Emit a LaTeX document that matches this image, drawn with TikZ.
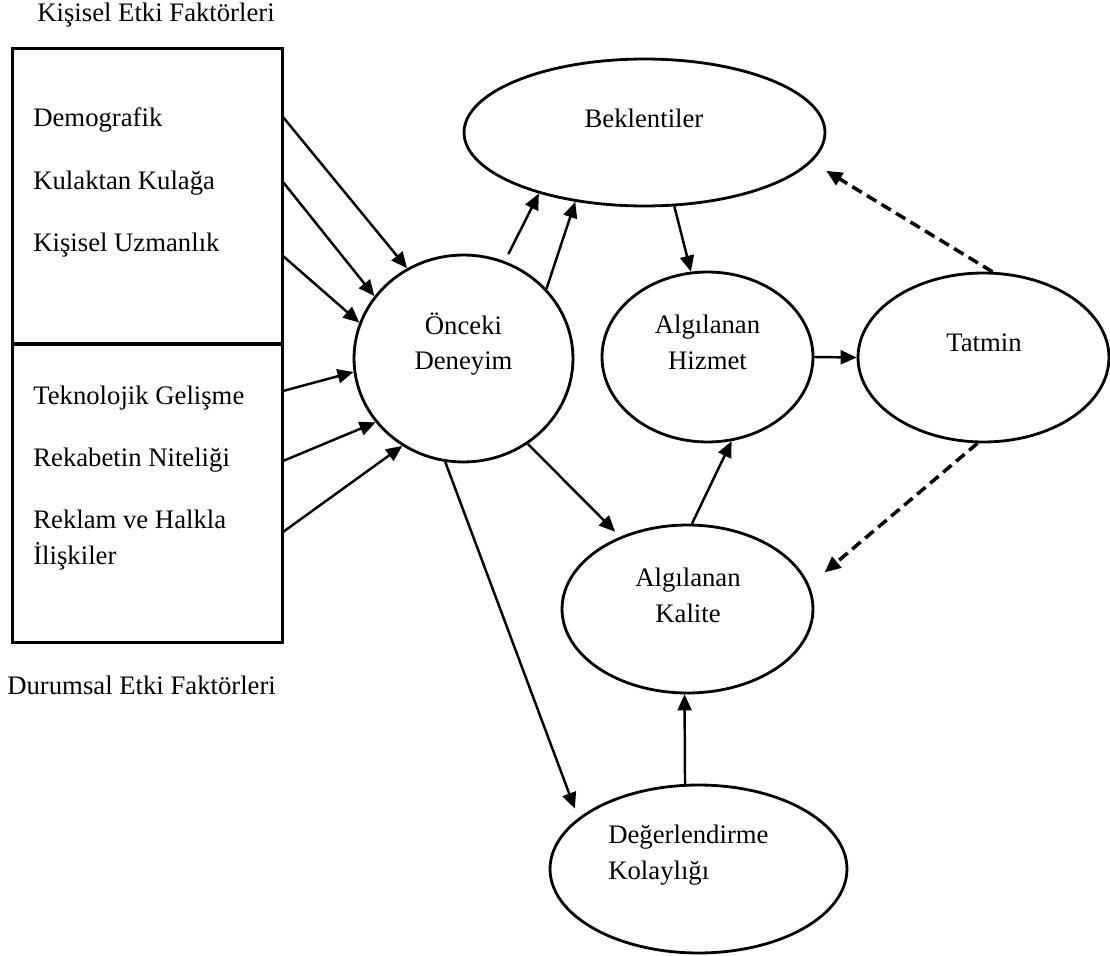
\documentclass[tikz,border=0pt]{standalone}
\usepackage{fontspec}
\setmainfont{Liberation Serif}
\usetikzlibrary{shapes.geometric,arrows.meta}
\begin{document}
\begin{tikzpicture}[x=0.02cm,y=-0.02cm,
  ell/.style={draw,ellipse,line width=1.6pt,inner sep=0pt},
  txt/.style={font=\fontsize{15.2}{20.4}\selectfont,inner sep=0pt},
  arr/.style={line width=1.4pt,-{Triangle[length=0.32cm,width=0.28cm]}},
  darr/.style={line width=2pt,dash pattern=on 0.22cm off 0.12cm,-{Triangle[length=0.32cm,width=0.28cm]}},
  boxst/.style={draw,line width=1.7pt,inner sep=0pt,rectangle}]
\useasboundingbox (0,0) rectangle (1110,956);

% boxes
\node[boxst,minimum width=5.42cm,minimum height=5.92cm] (kbox) at (147.5,196) {};
\node[boxst,minimum width=5.42cm,minimum height=5.98cm] (dbox) at (147.5,493.5) {};

% box labels
\node[txt,anchor=west] (ktitle) at (37,15) {Kişisel Etki Faktörleri};
\node[txt,anchor=west] (dtitle) at (7,685) {Durumsal Etki Faktörleri};

\node[txt,anchor=west] (demo) at (33,120) {Demografik};
\node[txt,anchor=west] (kulak) at (33,183) {Kulaktan Kulağa};
\node[txt,anchor=west] (uzman) at (33,245) {Kişisel Uzmanlık};
\node[txt,anchor=west] (tekno) at (33,398) {Teknolojik Gelişme};
\node[txt,anchor=west] (rekab) at (33,460) {Rekabetin Niteliği};
\node[txt,anchor=west,align=left] (rekl) at (33,540) {Reklam ve Halkla\\İlişkiler};

% ellipses
\node[ell,minimum width=4.38cm,minimum height=4.14cm] (onc) at (463.5,358.5) {};
\node[ell,minimum width=7.22cm,minimum height=2.94cm] (bek) at (644.5,132.5) {};
\node[ell,minimum width=4.22cm,minimum height=3.40cm] (hiz) at (707.5,357) {};
\node[ell,minimum width=5.02cm,minimum height=3.38cm] (tat) at (983.5,357.5) {};
\node[ell,minimum width=5.02cm,minimum height=3.36cm] (kal) at (687.5,609) {};
\node[ell,minimum width=5.94cm,minimum height=3.36cm] (deg) at (698.5,869) {};

% ellipse texts
\node[txt,align=center] (onct) at (463.5,344) {Önceki\\Deneyim};
\node[txt] (bekt) at (644,118) {Beklentiler};
\node[txt,align=center] (hizt) at (707.5,342) {Algılanan\\Hizmet};
\node[txt] (tatt) at (984,343) {Tatmin};
\node[txt,align=center] (kalt) at (688,595.5) {Algılanan\\Kalite};
\node[txt,align=left,anchor=west] (degt) at (608,855.5) {Değerlendirme\\Kolaylığı};

% arrow tails on the box edge
\coordinate (s1) at (283,117);
\coordinate (s2) at (283,182);
\coordinate (s3) at (283,256);
\coordinate (s4) at (283,391);
\coordinate (s5) at (283,461);
\coordinate (s6) at (283,532);

\draw[arr] (s1) -- (onc.122.9);
\draw[arr] (s2) -- (onc.145.4);
\draw[arr] (s3) -- (onc.161.9);
\draw[arr] (s4) -- (onc.187);
\draw[arr] (s5) -- (onc.216.3);
\draw[arr] (s6) -- (onc.235.3);

\draw[arr,shorten <=0.16cm] (onc.67.4) -- (bek.210);
\draw[arr] (onc.40.3) -- (bek.225.8);
\draw[arr] (bek.292.3) -- (hiz.101);
\draw[arr] (hiz.0) -- (tat.180);
\draw[darr,shorten >=0.34cm] (tat.84.3) -- (bek.350.6);
\draw[darr,shorten >=0.4cm] (tat.266.3) -- (kal.11.3);
\draw[arr,shorten >=0.14cm] (onc.307.7) -- (kal.133.6);
\draw[arr] (kal.87.7) -- (hiz.286.5);
\draw[arr] (deg.99.1) -- (kal.268.3);
\draw[arr,shorten >=0.2cm] (onc.260.9) -- (deg.157.2);
\end{tikzpicture}
\end{document}
